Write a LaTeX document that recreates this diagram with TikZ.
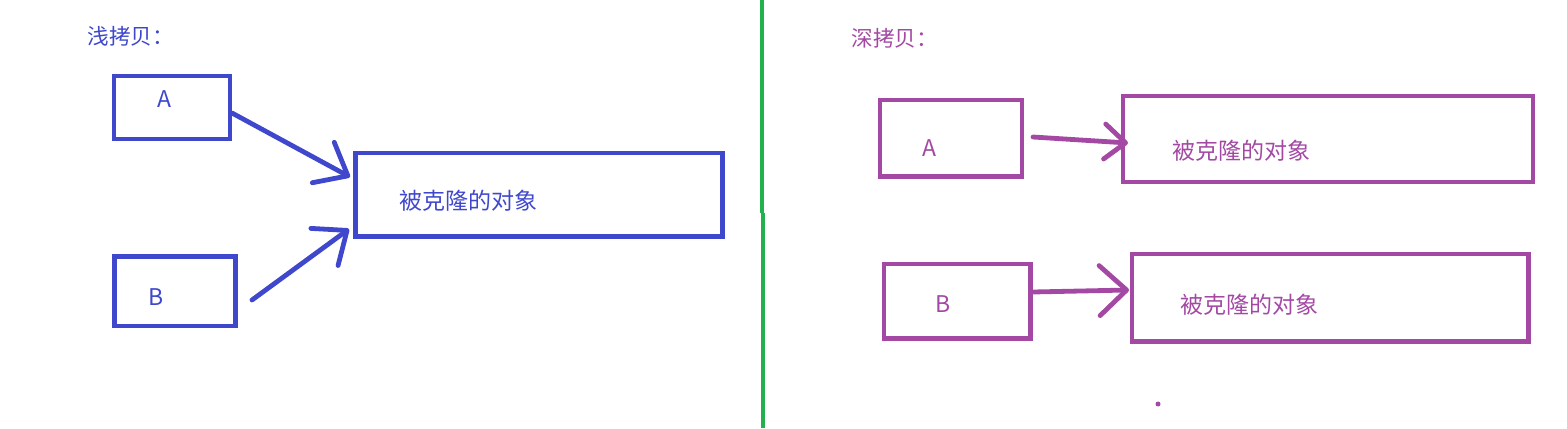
\documentclass[tikz,border=0pt]{standalone}
\usepackage{fontspec}
\setmainfont{Noto Sans CJK SC}
\usepackage{tikz}
\usetikzlibrary{calc,arrows.meta}
\definecolor{shallowblue}{RGB}{63,72,204}
\definecolor{deeppurple}{RGB}{163,73,164}
\definecolor{divgreen}{RGB}{34,177,76}

\begin{document}
\begin{tikzpicture}[x=0.5pt,y=-0.5pt,
shallowbox/.style={rectangle, draw=shallowblue, line width=2.25pt, inner sep=0pt, outer sep=0pt},
deepbox/.style={rectangle, draw=deeppurple, line width=2.25pt, inner sep=0pt, outer sep=0pt},
boxlabel/.style={inner sep=0pt, font=\fontsize{11.5pt}{13pt}\selectfont},
objtext/.style={inner sep=0pt, anchor=west, font=\fontsize{11.5pt}{13pt}\selectfont},
titletext/.style={inner sep=0pt, anchor=west, font=\fontsize{10.8pt}{13pt}\selectfont},
shallowarrow/.style={draw=shallowblue, line width=2.4pt, line cap=round, -{Straight Barb[round, length=14pt, width=23pt]}},
deeparrow/.style={draw=deeppurple, line width=2.4pt, line cap=round, -{Straight Barb[round, length=13.5pt, width=25pt]}},
deeparrowsmall/.style={deeparrow, -{Straight Barb[round, length=10.5pt, width=17.5pt]}}
]
\useasboundingbox (0,0) rectangle (1567,428);

%Divider
\draw[divgreen, line width=2pt] (761.5,0) -- (761.5,213);
\draw[divgreen, line width=2pt] (762.5,213) -- (762.5,428);

%Nodes
\node[titletext, text=shallowblue] (shallowtitle) at (87,36) {浅拷贝：};
\node[shallowbox, minimum width=58pt, minimum height=31.5pt] (shallowa) at (172,107.5) {};
\node[shallowbox, minimum width=60.5pt, minimum height=34.75pt] (shallowb) at (175,291) {};
\node[shallowbox, minimum width=183.5pt, minimum height=41.75pt] (shallowobj) at (539,194.75) {};
\node[boxlabel, text=shallowblue] (shallowalabel) at (164.5,99.5) {A};
\node[boxlabel, text=shallowblue] (shallowblabel) at (156,296.7) {B};
\node[objtext, text=shallowblue] (shallowobjtext) at (399,201) {被克隆的对象};

\node[titletext, text=deeppurple] (deeptitle) at (851,38.5) {深拷贝：};
\node[deepbox, minimum width=71pt, minimum height=38.25pt] (deepa) at (951,138) {};
\node[deepbox, minimum width=73.25pt, minimum height=37.25pt] (deepb) at (957,301) {};
\node[deepbox, minimum width=205pt, minimum height=43pt] (deepobja) at (1328,139) {};
\node[deepbox, minimum width=198.25pt, minimum height=43.75pt] (deepobjb) at (1330.25,297.75) {};
\node[boxlabel, text=deeppurple] (deepalabel) at (929,148) {A};
\node[boxlabel, text=deeppurple] (deepblabel) at (943.5,304) {B};
\node[objtext, text=deeppurple] (deepobjatext) at (1172,151) {被克隆的对象};
\node[objtext, text=deeppurple] (deepobjbtext) at (1180,305) {被克隆的对象};

%Lines
\draw[shallowarrow] ($(shallowa.east)+(2,5.5)$) -- ($(shallowobj.west)+(-5.5,-17.75)$);
\draw[shallowarrow] ($(shallowb.east)+(16.5,9)$) -- ($(shallowobj.west)+(-6.5,34.25)$);
\draw[deeparrowsmall] ($(deepa.east)+(11,-1)$) -- ($(deepobja.west)+(5,4)$);
\draw[deeparrow] ($(deepb.east)+(2.5,-9)$) -- ($(deepobjb.west)+(-3,-7.75)$);

\fill[deeppurple] (1158,404) circle[radius=1.25pt];
\end{tikzpicture}
\end{document}
